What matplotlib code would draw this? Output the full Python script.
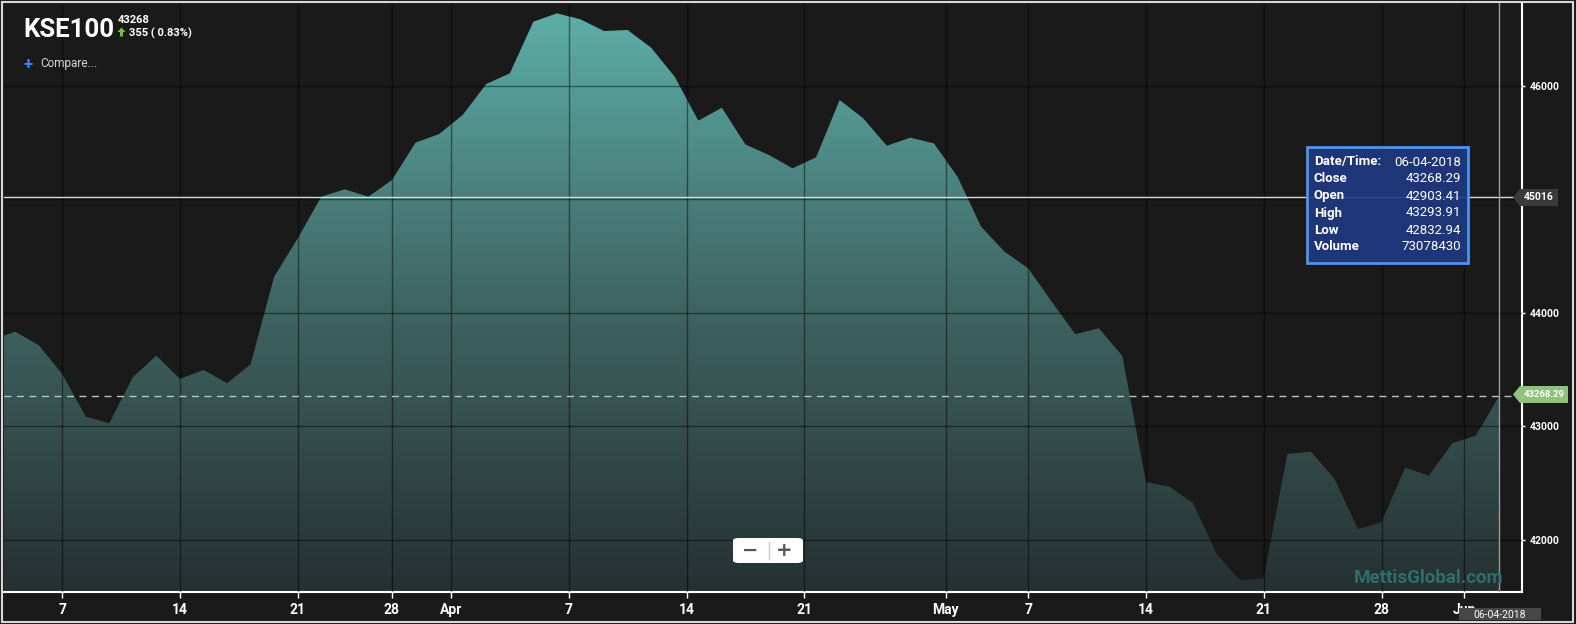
import matplotlib
matplotlib.use("Agg")
import matplotlib.pyplot as plt
import numpy as np
from matplotlib.patches import Rectangle, Polygon, FancyBboxPatch, PathPatch
from matplotlib.colors import LinearSegmentedColormap

# KSE100 daily closes (trading-day index), first point sits just off the left edge
close = [43759, 43833, 43716, 43461, 43085, 43026, 43432, 43622, 43417, 43496,
         43379, 43546, 44318, 44656, 45023, 45088, 45023, 45170, 45499, 45575,
         45743, 46016, 46110, 46565, 46639, 46586, 46483, 46492, 46336, 46080,
         45693, 45807, 45483, 45390, 45273, 45370, 45875, 45714, 45472, 45543,
         45493, 45199, 44759, 44538, 44392, 44098, 43811, 43863, 43619, 42507,
         42468, 42322, 41875, 41640, 41661, 42756, 42776, 42536, 42093, 42154,
         42635, 42565, 42850, 42917, 43268.29]
x_idx = np.arange(len(close))

tick_pos = [3, 8, 13, 17, 19.5, 24.5, 29.5, 34.5, 40.5, 44, 49, 54, 59, 62.5]
tick_labels = ['7', '14', '21', '28', 'Apr', '7', '14', '21', 'May', '7', '14', '21', '28', 'Jun']
y_ticks = [42000, 43000, 44000, 45000, 46000]
y_tick_labels = ['42000', '43000', '44000', '', '46000']  # 45000 sits under the crosshair tag

crosshair_val = 45016
tip_rows = [('Date/Time:', '06-04-2018'), ('Close', '43268.29'), ('Open', '42903.41'),
            ('High', '43293.91'), ('Low', '42832.94'), ('Volume', '73078430')]

W, H = 1576, 624
BG = '#1a1a1a'
sans = ['Roboto', 'DejaVu Sans']

def fx(px):
    return px / W

def fy(py):
    return 1 - py / H

fig = plt.figure(figsize=(W / 100, H / 100), dpi=100, facecolor=BG)
ax = fig.add_axes([fx(4), fy(592), (1522 - 4) / W, (592 - 3) / H])
ax.set_facecolor(BG)

xmin, xmax = 0.533, 64.96
ymin, ymax = 41539, 46730
ax.set_xlim(xmin, xmax)
ax.set_ylim(ymin, ymax)

# gradient area fill
fb = ax.fill_between(x_idx, close, ymin, facecolor='none', edgecolor='none')
clip = PathPatch(fb.get_paths()[0], transform=ax.transData, facecolor='none', edgecolor='none')
ax.add_patch(clip)
cmap = LinearSegmentedColormap.from_list('kse', ['#263031', '#3f6664', '#5eb0a9'])
grad = np.linspace(0, 1, 256).reshape(-1, 1)
im = ax.imshow(grad, extent=[xmin, xmax, ymin, ymax], origin='lower', aspect='auto',
               cmap=cmap, zorder=1)
im.set_clip_path(clip)

# grid, axes
ax.set_xticks(tick_pos)
ax.set_xticklabels(tick_labels)
ax.set_yticks(y_ticks)
ax.set_yticklabels(y_tick_labels)
ax.yaxis.tick_right()
ax.set_axisbelow(False)
ax.grid(True, color='black', alpha=0.45, lw=1)
for s in ['left', 'top']:
    ax.spines[s].set_visible(False)
for s in ['right', 'bottom']:
    ax.spines[s].set_color('white')
    ax.spines[s].set_linewidth(1.5)
ax.tick_params(axis='x', colors='white', length=4, width=1, pad=4, labelsize=10)
ax.tick_params(axis='y', colors='white', length=2.5, width=1, pad=3, labelsize=7.5)
for lab in ax.get_xticklabels():
    lab.set_family(sans)
    lab.set_fontweight('bold')
for lab in ax.get_yticklabels():
    lab.set_family(sans)
    lab.set_fontweight('bold')

# last close dashed line and crosshair lines
ax.axhline(close[-1], color='#b8c4c4', lw=1, ls=(0, (5, 4)), zorder=3)
ax.axhline(crosshair_val, color='#d8d8d8', lw=1, zorder=3)
ax.axvline(x_idx[-1], color='#9a9a9a', lw=1, zorder=3)

# title block
fig.text(fx(23), fy(37), 'KSE100', color='white', fontsize=18.5, fontweight='bold',
         family=sans, va='baseline')
fig.text(fx(118), fy(23), '43268', color='white', fontsize=8, fontweight='bold',
         family=sans, va='baseline')
fig.patches.append(Polygon([[fx(117.5), fy(32)], [fx(121.5), fy(27.5)], [fx(125.5), fy(32)],
                            [fx(123), fy(32)], [fx(123), fy(36.5)], [fx(120), fy(36.5)],
                            [fx(120), fy(32)]], closed=True, transform=fig.transFigure,
                           facecolor='#6fc23a', edgecolor='none'))
fig.text(fx(129), fy(36.5), '355 ( 0.83%)', color='white', fontsize=8, fontweight='bold',
         family=sans, va='baseline')
fig.text(fx(28.5), fy(64), '+', color='#3d86f5', fontsize=12, fontweight='bold',
         ha='center', va='center', family=sans)
fig.text(fx(40), fy(64), 'Compare...', color='#d6d6d6', fontsize=8.5,
         va='center', family=sans)

# tooltip
fig.patches.append(Rectangle((fx(1307), fy(263)), (1468 - 1307) / W, (263 - 147) / H,
                             transform=fig.transFigure, facecolor='#1f3a82', alpha=0.9,
                             edgecolor='none'))
fig.patches.append(Rectangle((fx(1307), fy(263)), (1468 - 1307) / W, (263 - 147) / H,
                             transform=fig.transFigure, facecolor='none',
                             edgecolor='#4f93ec', lw=2))
for k, (lab, val) in enumerate(tip_rows):
    yy = 162 + k * 17
    fig.text(fx(1314), fy(yy), lab, color='white', fontsize=9.5, fontweight='bold',
             va='center', family=sans)
    fig.text(fx(1461), fy(yy), val, color='white', fontsize=9.5, ha='right',
             va='center', family=sans)

# price tags on the right axis
def tag(py, x0, x1, text, color, size):
    h = 8.5
    fig.patches.append(Polygon([[fx(x0), fy(py)], [fx(x0 + 7), fy(py - h)], [fx(x1), fy(py - h)],
                                [fx(x1), fy(py + h)], [fx(x0 + 7), fy(py + h)]], closed=True,
                               transform=fig.transFigure, facecolor=color, edgecolor='none'))
    fig.text(fx((x0 + 7 + x1) / 2), fy(py), text, color='white', fontsize=size,
             fontweight='bold', ha='center', va='center', family=sans)

tag(197.5, 1513, 1558, '45016', '#3a3a3a', 7.5)
tag(394.5, 1513, 1568, '43268.29', '#8cc47c', 6.8)

fig.patches.append(Rectangle((fx(1459), fy(620)), 82 / W, 12 / H, transform=fig.transFigure,
                             facecolor='#474747', edgecolor='none'))
fig.text(fx(1500), fy(614.5), '06-04-2018', color='white', fontsize=7.5, ha='center',
         va='center', family=sans)

# zoom buttons
fig.patches.append(FancyBboxPatch((fx(733), fy(563)), 70 / W, 25 / H,
                                  boxstyle='round,pad=0,rounding_size=0.004',
                                  transform=fig.transFigure, facecolor='white', edgecolor='none'))
fig.lines.append(plt.Line2D([fx(769), fx(769)], [fy(542), fy(559)], transform=fig.transFigure,
                            color='#cccccc', lw=1))
fig.text(fx(750), fy(550), '\u2212', color='#555555', fontsize=14, fontweight='bold',
         ha='center', va='center')
fig.text(fx(784), fy(550), '+', color='#555555', fontsize=14, fontweight='bold',
         ha='center', va='center')

# watermark
fig.text(fx(1429), fy(578), 'MettisGlobal.com', color='#2e6e6c', fontsize=13.5, fontweight='bold',
         ha='center', va='center', family=sans)

# outer frame
fig.patches.append(Rectangle((fx(2), fy(622)), 1571 / W, 620 / H, transform=fig.transFigure,
                             facecolor='none', edgecolor='#d8d8d8', lw=1.5))

fig.savefig('out.png', dpi=100, facecolor=BG)
